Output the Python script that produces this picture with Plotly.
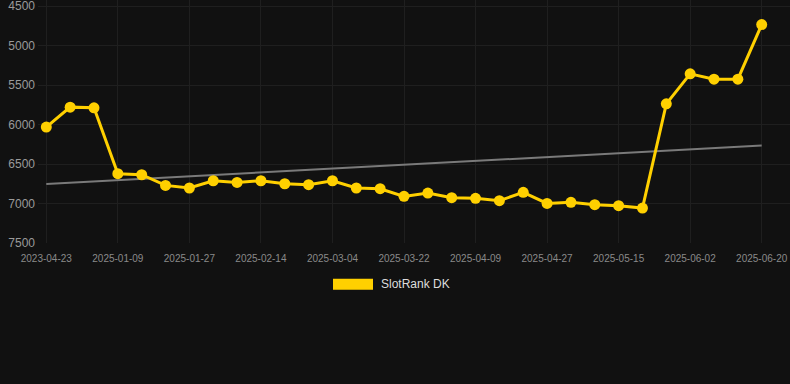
import plotly.graph_objects as go

dates = ["2023-04-23", "2024-12-28", "2025-01-03", "2025-01-09", "2025-01-15", "2025-01-21",
         "2025-01-27", "2025-02-02", "2025-02-08", "2025-02-14", "2025-02-20", "2025-02-26",
         "2025-03-04", "2025-03-10", "2025-03-16", "2025-03-22", "2025-03-28", "2025-04-03",
         "2025-04-09", "2025-04-15", "2025-04-21", "2025-04-27", "2025-05-03", "2025-05-09",
         "2025-05-15", "2025-05-21", "2025-05-27", "2025-06-02", "2025-06-08", "2025-06-14",
         "2025-06-20"]
rank = [6031, 5778, 5787, 6622, 6635, 6770, 6803, 6711, 6732, 6711, 6749, 6761,
        6711, 6803, 6812, 6909, 6867, 6926, 6934, 6964, 6858, 6998, 6985, 7015,
        7027, 7057, 5736, 5356, 5424, 5424, 4732]
trend_x = [dates[0], dates[-1]]
trend_y = [6753, 6264]
tick_labels = dates[::3]
y_ticks = [4500, 5000, 5500, 6000, 6500, 7000, 7500]

YELLOW = "#FFD000"
GRID = "#1f1f1f"
W, H = 790, 384
L, T, B = 38, 0, 140.7
pw, ph = W - L, H - T - B
y_top_px, y_bot_px = 6.3, 243.3
per_px = (7500 - 4500) / (y_bot_px - y_top_px)
y_top = 4500 - (y_top_px - T) * per_px

fig = go.Figure()
fig.add_trace(go.Scatter(x=trend_x, y=trend_y, mode="lines",
                         line=dict(color="#7a7a7a", width=2), showlegend=False,
                         hoverinfo="skip"))
fig.add_trace(go.Scatter(x=dates, y=rank, mode="lines+markers", name="SlotRank DK",
                         line=dict(color=YELLOW, width=3),
                         marker=dict(color=YELLOW, size=11), showlegend=False))

step = (761.7 - 46.3) / 30
x0 = (L - 46.3) / step
x1 = 30 + (W - 761.7) / step

fig.update_layout(
    width=W, height=H,
    margin=dict(l=L, r=0, t=T, b=B, pad=0),
    paper_bgcolor="#111111", plot_bgcolor="#111111",
    font=dict(family="Liberation Sans, Arial, sans-serif"),
    xaxis=dict(type="category", categoryorder="array", categoryarray=dates,
               range=[x0, x1], tickmode="array",
               tickvals=tick_labels, ticktext=tick_labels,
               tickfont=dict(size=10, color="#8a8a8a"),
               showgrid=True, gridcolor=GRID, gridwidth=1,
               zeroline=False, showline=False, ticks="", ticklabelstandoff=8),
    yaxis=dict(range=[7500, y_top], tickvals=y_ticks,
               tickfont=dict(size=12, color="#9a9a9a"),
               showgrid=True, gridcolor=GRID, gridwidth=1,
               zeroline=False, showline=False, ticks="", ticklabelstandoff=2,
               ticklabeloverflow="allow"),
    shapes=[dict(type="rect", xref="paper", yref="paper",
                 x0=(333 - L) / pw, x1=(373 - L) / pw,
                 y0=(H - B - 290) / ph, y1=(H - B - 279) / ph,
                 fillcolor=YELLOW, line=dict(width=0))],
    annotations=[dict(xref="paper", yref="paper", x=(379 - L) / pw,
                      y=(H - B - 284.5) / ph, xanchor="left", yanchor="middle",
                      text="SlotRank DK", showarrow=False,
                      font=dict(size=12, color="#dddddd"))],
)
fig.write_html("out.html", config={"displayModeBar": False},
               post_script="document.body.style.margin='0';document.body.style.background='#111111';")
